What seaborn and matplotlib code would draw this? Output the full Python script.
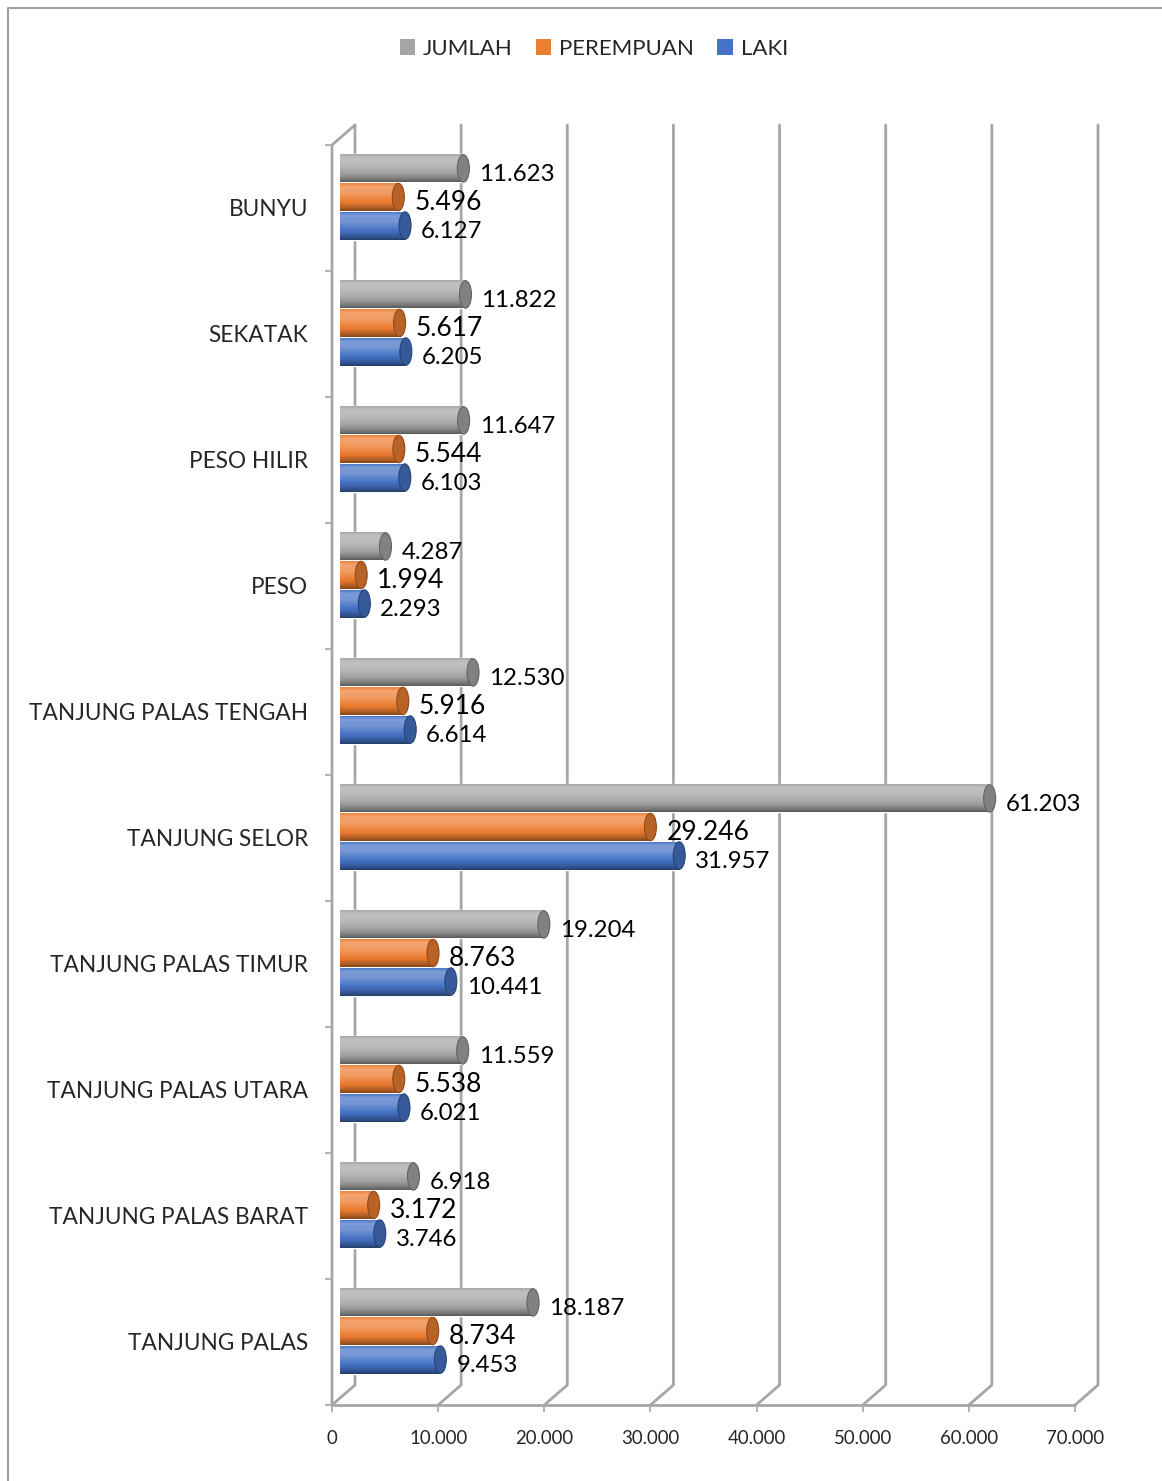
import numpy as np
import pandas as pd
import seaborn as sns
import matplotlib.pyplot as plt
import matplotlib.colors as mcolors
from matplotlib.transforms import ScaledTranslation
from matplotlib.patches import Ellipse, Patch
from matplotlib.lines import Line2D

# data (jumlah penduduk per kecamatan)
kecamatan = ['BUNYU', 'SEKATAK', 'PESO HILIR', 'PESO', 'TANJUNG PALAS TENGAH',
             'TANJUNG SELOR', 'TANJUNG PALAS TIMUR', 'TANJUNG PALAS UTARA',
             'TANJUNG PALAS BARAT', 'TANJUNG PALAS']
jumlah = [11623, 11822, 11647, 4287, 12530, 61203, 19204, 11559, 6918, 18187]
perempuan = [5496, 5617, 5544, 1994, 5916, 29246, 8763, 5538, 3172, 8734]
laki = [6127, 6205, 6103, 2293, 6614, 31957, 10441, 6021, 3746, 9453]
seri = ['JUMLAH', 'PEREMPUAN', 'LAKI']
warna = ['#A5A5A5', '#ED7D31', '#4472C4']
xticks = [0, 10000, 20000, 30000, 40000, 50000, 60000, 70000]

df = pd.DataFrame({
    'kecamatan': kecamatan * 3,
    'seri': [s for s in seri for _ in kecamatan],
    'nilai': jumlah + perempuan + laki,
})

def fmt(v):
    return f"{v:,}".replace(',', '.')

def shade(c, f):
    c = np.array(mcolors.to_rgb(c))
    return c + (1 - c) * f if f >= 0 else c * (1 + f)

sns.set_style('white')
plt.rcParams['font.family'] = ['Lato', 'DejaVu Sans']

W, H = 1162, 1481
fig = plt.figure(figsize=(W / 100, H / 100), dpi=100)
# front plane of the pseudo-3D box (pixels): x 332..1075, y 145..1405
ax = fig.add_axes([332 / W, (H - 1405) / H, (1075 - 332) / W, (1405 - 145) / H])

sns.barplot(data=df, y='kecamatan', x='nilai', hue='seri', hue_order=seri,
            order=kecamatan, palette=warna, orient='h', width=0.68, gap=0.02,
            saturation=1, legend=False, ax=ax)
ax.set_xlim(0, 70000)
ax.set_ylim(9.5, -0.5)
for s in ax.spines.values():
    s.set_visible(False)

# depth offset of the back wall, in data units
dx = 23 * 70000 / 743
dy = 20 * 10 / 1260
grid_c = '#A6A6A6'
for v in xticks:
    ax.plot([v, v + dx, v + dx], [9.5, 9.5 - dy, -0.5 - dy], color=grid_c,
            lw=2, clip_on=False, zorder=0, solid_joinstyle='miter')
ax.plot([0, 0, dx], [9.5, -0.5, -0.5 - dy], color=grid_c, lw=2, clip_on=False, zorder=0)
ax.plot([0, 70000], [9.5, 9.5], color=grid_c, lw=2, clip_on=False, zorder=0)

# bars sit half way into the depth
trans = ax.transData + ScaledTranslation(0.08, 0.11, fig.dpi_scale_trans)
ltrans = ax.transData + ScaledTranslation(0.24, 0.05, fig.dpi_scale_trans)
t = np.linspace(0, 1, 60)
prof = np.interp(t, [0, 0.12, 0.35, 0.75, 0.92, 1], [0.05, 0.3, 0.25, -0.08, -0.3, -0.45])
cap_w = 12 * 70000 / 743

for i, s in enumerate(seri):
    c = warna[i]
    img = np.array([shade(c, f) for f in prof]).reshape(-1, 1, 3)
    for p in ax.containers[i]:
        x0, y0, w, h = p.get_x(), p.get_y(), p.get_width(), p.get_height()
        p.set_transform(trans)
        p.set_zorder(2)
        im = ax.imshow(img, extent=(x0, x0 + w, y0 + h, y0), aspect='auto',
                       transform=trans, zorder=3, interpolation='bilinear')
        im.set_clip_path(p)
        ax.add_patch(Ellipse((x0 + w, y0 + h / 2), cap_w, h * 0.98, transform=trans,
                             facecolor=shade(c, -0.22), edgecolor=shade(c, -0.4),
                             lw=0.8, zorder=4))
        ax.text(x0 + w, y0 + h / 2, fmt(int(round(w))), transform=ltrans,
                va='center', ha='left', fontsize=19 if s == 'PEREMPUAN' else 17.3,
                color='black', zorder=5)

ax.set_xlim(0, 70000)
ax.set_ylim(9.5, -0.5)

ax.set_xticks(xticks)
ax.set_xticklabels([fmt(v) for v in xticks], fontsize=13.4)
ax.tick_params(axis='x', length=5, width=1.2, color=grid_c, pad=13, bottom=True)
ax.set_yticks(range(len(kecamatan)))
ax.set_yticklabels(kecamatan, fontsize=16.3)
ax.set_yticks(np.arange(-0.5, 10, 1), minor=True)
ax.tick_params(axis='y', which='major', length=0, pad=17)
ax.tick_params(axis='y', which='minor', length=5, width=1.2, color=grid_c, left=True)
ax.set_xlabel('')
ax.set_ylabel('')

handles = [Patch(facecolor=c, edgecolor='none') for c in warna]
fig.legend(handles, seri, loc='center', bbox_to_anchor=(0.511, 1 - 49 / H), ncol=3,
           frameon=False, fontsize=16, handlelength=0.7, handleheight=0.7,
           handletextpad=0.35, columnspacing=1.05)

# outer frame of the chart area
fig.add_artist(Line2D([8 / W, 8 / W, 1.01], [-0.01, 1 - 8 / H, 1 - 8 / H],
                      transform=fig.transFigure, color='#A0A0A0', lw=1.5))

fig.savefig('out.png', dpi=100)
